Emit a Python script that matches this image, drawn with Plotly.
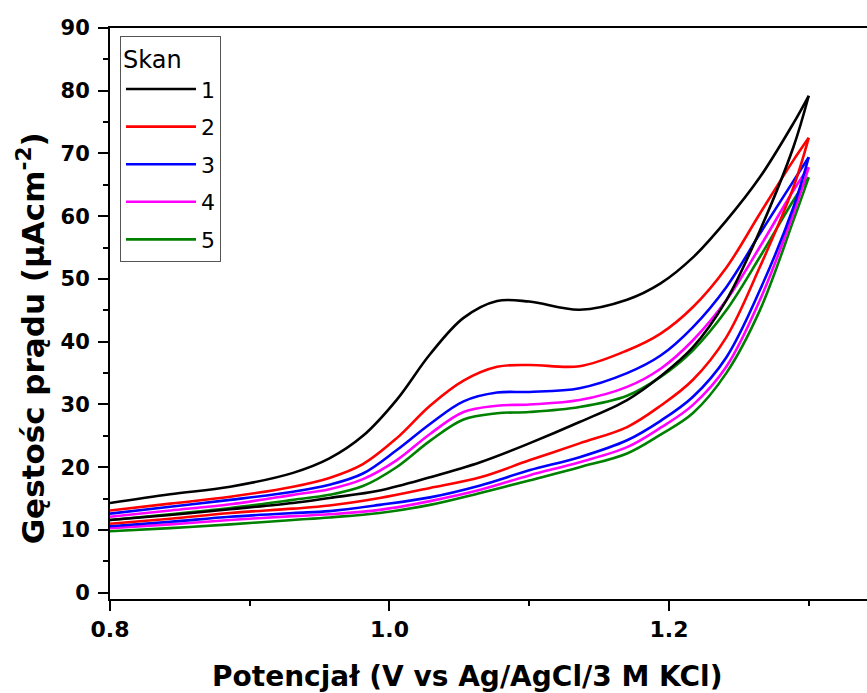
import plotly.graph_objects as go

# ---- data ----
scan_names = ["1", "2", "3", "4", "5"]
colors = ["#000000", "#FF0000", "#0000FF", "#FF00FF", "#008000"]

x_forward = [0.80, 0.843, 0.886, 0.931, 0.957, 0.981, 1.005, 1.029, 1.053, 1.077,
             1.100, 1.136, 1.170, 1.194, 1.217, 1.241, 1.265, 1.289, 1.30]
x_reverse = [1.30, 1.289, 1.265, 1.241, 1.217, 1.194, 1.170, 1.136, 1.100, 1.065,
             1.029, 0.993, 0.957, 0.931, 0.886, 0.843, 0.80]

scan1_forward = [14.3, 15.7, 16.9, 19.1, 21.4, 25.0, 30.7, 38.0, 43.8, 46.5,
                 46.4, 45.1, 46.7, 49.3, 53.4, 59.3, 66.2, 74.8, 79.2]
scan1_reverse = [79.2, 71.0, 57.7, 46.6, 39.1, 34.5, 30.7, 27.2, 23.8, 20.8,
                 18.4, 16.3, 15.1, 14.3, 13.3, 12.4, 11.6]

scan2_forward = [13.1, 14.2, 15.3, 16.9, 18.3, 20.5, 24.6, 29.8, 33.8, 36.0,
                 36.3, 36.1, 38.6, 41.3, 45.5, 51.8, 60.4, 68.9, 72.5]
scan2_reverse = [72.5, 64.6, 51.9, 40.7, 33.9, 29.8, 26.4, 23.8, 21.1, 18.4,
                 16.7, 15.1, 13.9, 13.4, 12.7, 11.8, 11.0]

scan3_forward = [12.6, 13.7, 14.8, 16.1, 17.2, 19.0, 22.7, 26.9, 30.5, 31.9,
                 32.0, 32.6, 35.0, 37.8, 42.3, 48.7, 57.2, 65.6, 69.4]
scan3_reverse = [69.4, 61.4, 48.2, 37.5, 31.2, 27.4, 24.3, 21.6, 19.5, 17.1,
                 15.2, 14.0, 13.0, 12.7, 12.1, 11.3, 10.6]

scan4_forward = [12.1, 13.1, 14.1, 15.6, 16.5, 18.1, 21.1, 25.3, 28.8, 29.8,
                 30.0, 30.7, 32.8, 35.7, 40.2, 46.6, 55.1, 64.1, 67.8]
scan4_reverse = [67.8, 60.4, 46.6, 36.0, 29.9, 26.3, 23.2, 20.8, 18.7, 16.4,
                 14.6, 13.2, 12.5, 12.2, 11.6, 10.9, 10.3]

scan5_forward = [11.6, 12.5, 13.5, 14.8, 15.6, 17.0, 20.0, 24.2, 27.6, 28.6,
                 28.8, 29.6, 31.4, 34.4, 38.6, 45.0, 53.5, 62.5, 66.2]
scan5_reverse = [66.2, 59.3, 45.0, 35.0, 28.6, 25.2, 22.2, 20.0, 17.9, 15.9,
                 14.0, 12.7, 12.0, 11.6, 10.9, 10.3, 9.8]

forwards = [scan1_forward, scan2_forward, scan3_forward, scan4_forward, scan5_forward]
reverses = [scan1_reverse, scan2_reverse, scan3_reverse, scan4_reverse, scan5_reverse]

y_ticks = [0, 10, 20, 30, 40, 50, 60, 70, 80, 90]
x_ticks = [0.8, 1.0, 1.2]
x_tick_labels = ["0.8", "1.0", "1.2"]

FONT = "DejaVu Sans"

fig = go.Figure()
# draw last scan first so scan 1 sits on top
for i in reversed(range(5)):
    fig.add_trace(go.Scatter(
        x=x_forward, y=forwards[i], mode="lines", name=scan_names[i],
        legendgroup=scan_names[i], legendrank=i + 1,
        line=dict(color=colors[i], width=2.6, shape="spline", smoothing=1.0),
    ))
    fig.add_trace(go.Scatter(
        x=x_reverse, y=reverses[i], mode="lines", name=scan_names[i],
        legendgroup=scan_names[i], showlegend=False,
        line=dict(color=colors[i], width=2.6, shape="spline", smoothing=1.0),
    ))

fig.update_layout(
    width=867, height=693,
    margin=dict(l=110, r=0, t=28, b=94, autoexpand=False),
    paper_bgcolor="white", plot_bgcolor="white",
    showlegend=True,
    legend=dict(
        title=dict(text="Skan", font=dict(family=FONT, size=24, color="black")),
        font=dict(family=FONT, size=22, color="black"),
        x=0.0132, y=0.986, xanchor="left", yanchor="top",
        bordercolor="#555555", borderwidth=1, bgcolor="white",
        traceorder="grouped", tracegroupgap=6, itemwidth=70,
    ),
    xaxis=dict(
        range=[0.8, 1.3417], showgrid=False, zeroline=False,
        showline=True, linecolor="black", linewidth=2, mirror=True,
        ticks="outside", ticklen=10, tickwidth=2, tickcolor="black",
        tickvals=x_ticks, ticktext=x_tick_labels,
        tickfont=dict(family=FONT, size=22, color="black", weight="bold"),
        minor=dict(tickvals=[0.9, 1.1, 1.3], ticks="outside", ticklen=5,
                   tickwidth=2, tickcolor="black"),
    ),
    yaxis=dict(
        range=[-1.0, 90], showgrid=False, zeroline=False,
        showline=True, linecolor="black", linewidth=2, mirror=False,
        ticks="outside", ticklen=10, tickwidth=2, tickcolor="black",
        tickvals=y_ticks,
        tickfont=dict(family=FONT, size=21, color="black", weight="bold"),
        ticklabelstandoff=4,
        minor=dict(dtick=5, ticks="outside", ticklen=5, tickwidth=2,
                   tickcolor="black"),
    ),
    annotations=[
        dict(text="Potencjał (V vs Ag/AgCl/3 M KCl)", xref="paper", yref="paper",
             x=0.4716, y=-0.135, xanchor="center", yanchor="middle",
             showarrow=False,
             font=dict(family=FONT, size=28, color="black", weight="bold")),
        dict(text="Gęstośc prądu (μAcm<sup>-2</sup>)", xref="paper", yref="paper",
             x=-0.104, y=0.457, xanchor="center", yanchor="middle",
             textangle=-90, showarrow=False,
             font=dict(family=FONT, size=31, color="black", weight="bold")),
    ],
)

fig.write_html(
    "out.html",
    config={"displayModeBar": False},
    post_script="document.body.style.margin='0';document.body.style.padding='0';",
)
